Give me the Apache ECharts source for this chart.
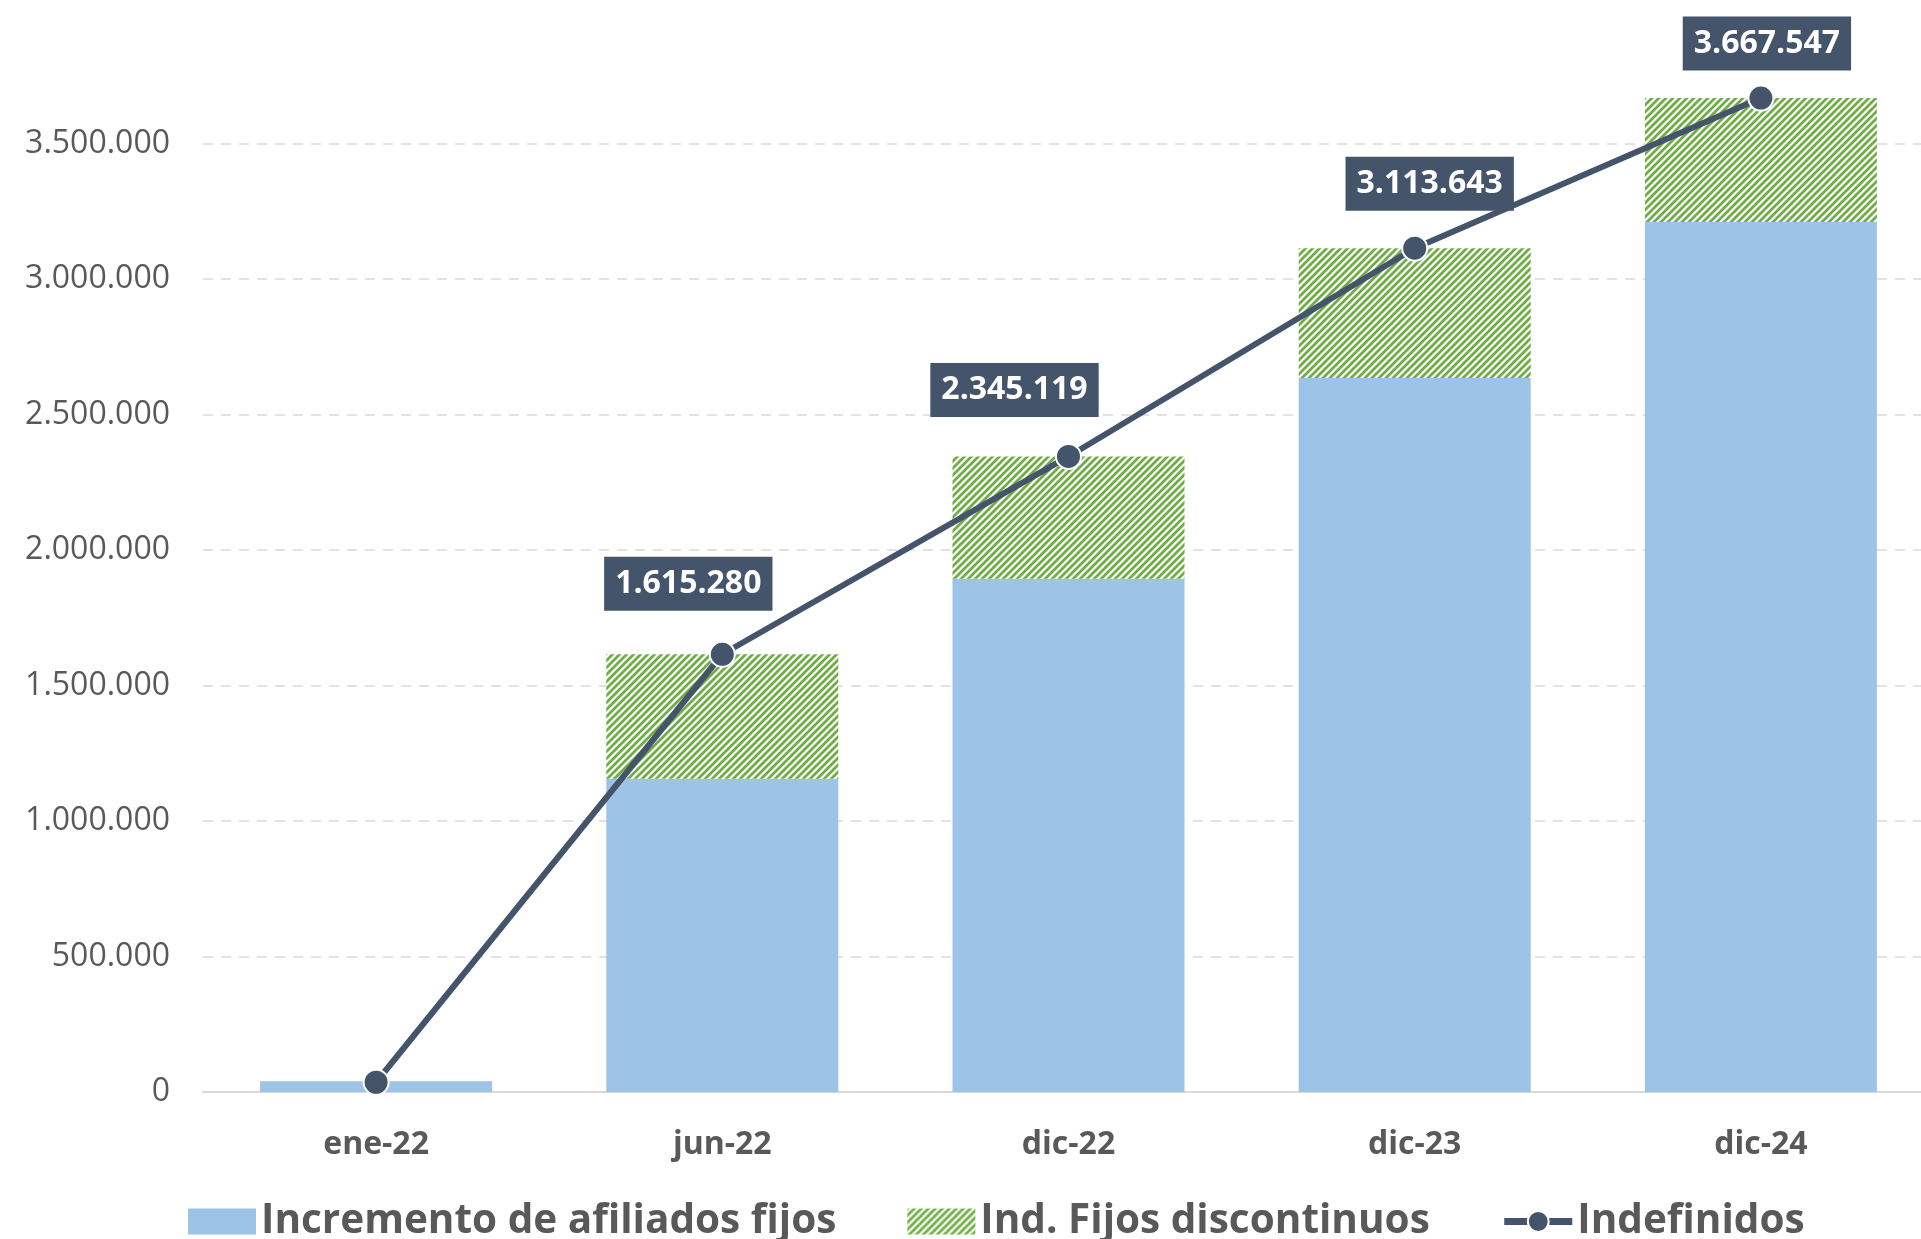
<!DOCTYPE html>
<html>
<head>
<meta charset="utf-8">
<script src="https://cdn.jsdelivr.net/npm/echarts@6/dist/echarts.min.js"></script>
<style>
html,body{margin:0;padding:0;background:#fff;}
#chart{width:1921px;height:1239px;}
</style>
</head>
<body>
<div id="chart"></div>
<script>
// ---- Data ----
var categories = ['ene-22', 'jun-22', 'dic-22', 'dic-23', 'dic-24'];
var fijosValues = [40000, 1156000, 1894000, 2635000, 3210000];
var discontinuosValues = [0, 459280, 451119, 478643, 457547];
var indefinidosValues = [36000, 1615280, 2345119, 3113643, 3667547];
var showIndefLabel = [false, true, true, true, true];
var yTicks = [0, 500000, 1000000, 1500000, 2000000, 2500000, 3000000, 3500000];

var seriesNames = ['Incremento de afiliados fijos', 'Ind. Fijos discontinuos', 'Indefinidos'];

function fmt(v) {
  return String(Math.round(v)).replace(/\B(?=(\d{3})+(?!\d))/g, '.');
}

// hatch pattern
var tile = 7;
var pc = document.createElement('canvas');
pc.width = tile; pc.height = tile;
var ctx = pc.getContext('2d');
ctx.fillStyle = '#ffffff';
ctx.fillRect(0, 0, tile, tile);
ctx.strokeStyle = '#70AD47';
ctx.lineWidth = 2.8;
ctx.beginPath();
ctx.moveTo(-tile, tile * 2); ctx.lineTo(tile * 2, -tile);
ctx.moveTo(-tile, tile); ctx.lineTo(tile, -tile);
ctx.moveTo(0, tile * 2); ctx.lineTo(tile * 2, 0);
ctx.stroke();

var labelOffsets = [[0, 0], [-34, -30], [-54, -26], [15, -24], [6, -14]];

var lineData = indefinidosValues.map(function (v, i) {
  return {
    value: v,
    label: {
      show: showIndefLabel[i],
      offset: labelOffsets[i]
    }
  };
});

var chart = echarts.init(document.getElementById('chart'));
var option = {
  animation: false,
  backgroundColor: '#ffffff',
  textStyle: { fontFamily: 'Open Sans' },
  grid: { left: 203, width: 1731, top: 8, bottom: 147, containLabel: false, outerBoundsMode: 'none' },
  legend: {
    left: 183,
    top: 1196,
    itemWidth: 68,
    itemHeight: 26,
    itemGap: 71,
    textStyle: { fontFamily: 'Open Sans', fontSize: 40.5, fontWeight: 'bold', color: '#595959' },
    data: [
      { name: seriesNames[0], icon: 'rect' },
      { name: seriesNames[1], icon: 'rect' },
      { name: seriesNames[2], lineStyle: { width: 7 } }
    ]
  },
  xAxis: {
    type: 'category',
    data: categories,
    axisLine: { show: true, lineStyle: { color: '#D9D9D9', width: 2 } },
    axisTick: { show: false },
    axisLabel: { color: '#595959', fontSize: 32, fontWeight: 'bold', margin: 37, fontFamily: 'Open Sans' }
  },
  yAxis: {
    type: 'value',
    min: 0,
    max: 4000000,
    interval: 500000,
    axisLine: { show: false },
    axisTick: { show: false },
    axisLabel: {
      color: '#595959', fontSize: 32, margin: 33, fontFamily: 'Open Sans',
      formatter: function (v) { return v > yTicks[yTicks.length - 1] ? '' : fmt(v); }
    },
    splitLine: {
      show: true,
      lineStyle: {
        color: ['#D9D9D9', '#D9D9D9', '#D9D9D9', '#D9D9D9', '#D9D9D9', '#D9D9D9', '#D9D9D9', '#D9D9D9', 'rgba(0,0,0,0)'],
        type: [10, 8],
        width: 1.5
      }
    }
  },
  series: [
    {
      name: seriesNames[0],
      type: 'bar',
      stack: 'total',
      barWidth: 232,
      data: fijosValues,
      itemStyle: { color: '#9DC3E6' },
      z: 2
    },
    {
      name: seriesNames[1],
      type: 'bar',
      stack: 'total',
      barWidth: 232,
      data: discontinuosValues,
      itemStyle: { color: { image: pc, repeat: 'repeat' } },
      z: 2
    },
    {
      name: seriesNames[2],
      type: 'line',
      data: lineData,
      symbol: 'circle',
      symbolSize: 25,
      itemStyle: { color: '#44546A', borderColor: '#ffffff', borderWidth: 2 },
      lineStyle: { color: '#44546A', width: 6 },
      z: 5,
      label: {
        show: true,
        position: 'top',
        distance: 0,
        formatter: function (p) { return fmt(p.value); },
        backgroundColor: '#44546A',
        color: '#ffffff',
        fontFamily: 'Open Sans',
        fontWeight: 'bold',
        fontSize: 32,
        lineHeight: 34,
        padding: [10, 11, 10, 11]
      }
    }
  ]
};
chart.setOption(option);
</script>
</body>
</html>
